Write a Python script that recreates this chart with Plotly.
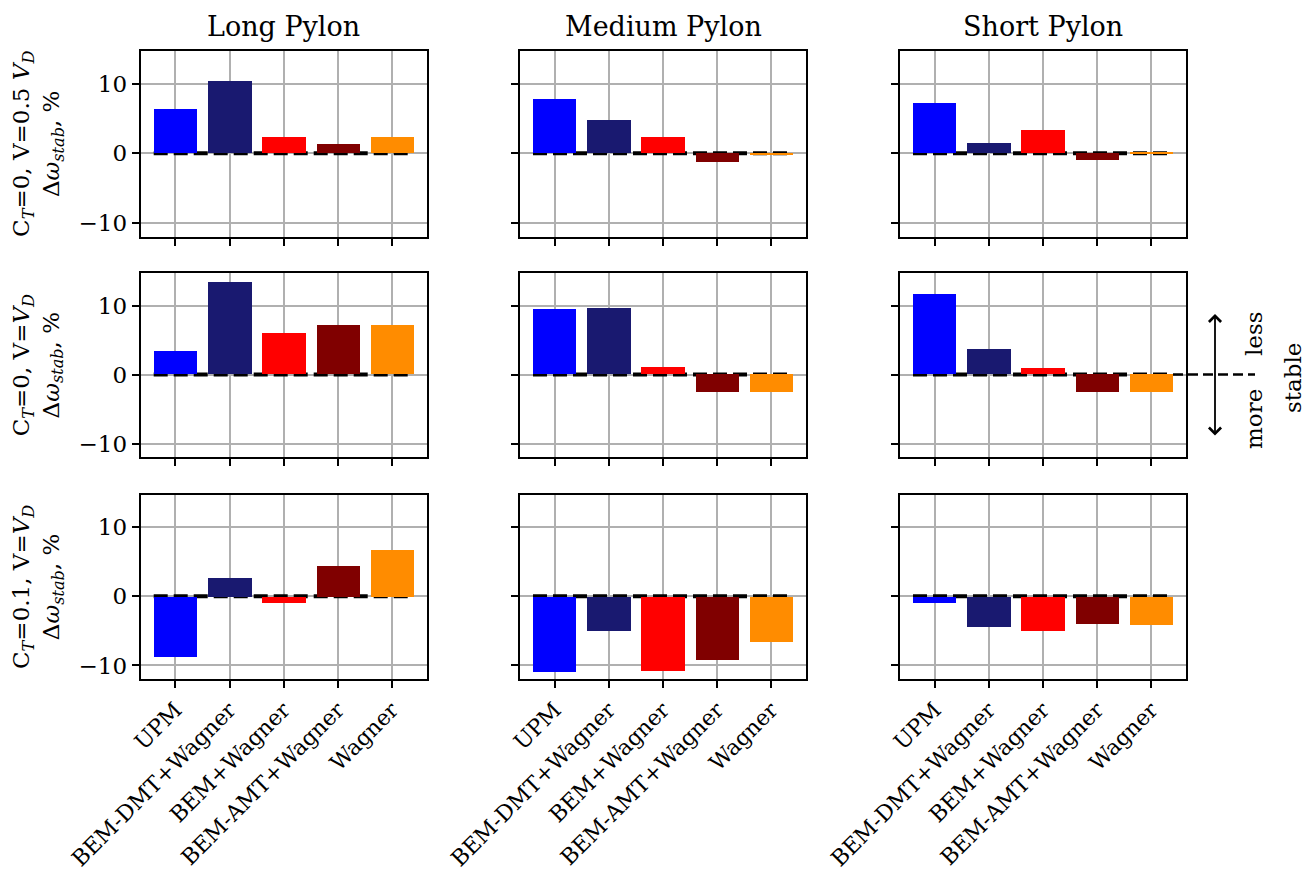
import plotly.graph_objects as go
from plotly.subplots import make_subplots

methods = ["UPM", "BEM-DMT+Wagner", "BEM+Wagner", "BEM-AMT+Wagner", "Wagner"]
colors = ["#0000FF", "#191970", "#FF0000", "#800000", "#FF8C00"]
columns = ["Long Pylon", "Medium Pylon", "Short Pylon"]
row_labels = [
    "C<sub><i>T</i></sub>=0, V=0.5 <i>V</i><sub><i>D</i></sub><br>Δ<i>ω</i><sub><i>stab</i></sub>, %",
    "C<sub><i>T</i></sub>=0, V=<i>V</i><sub><i>D</i></sub><br>Δ<i>ω</i><sub><i>stab</i></sub>, %",
    "C<sub><i>T</i></sub>=0.1, V=<i>V</i><sub><i>D</i></sub><br>Δ<i>ω</i><sub><i>stab</i></sub>, %",
]

long_v05 = [6.4, 10.4, 2.35, 1.35, 2.35]
medium_v05 = [7.8, 4.8, 2.35, -1.35, -0.3]
short_v05 = [7.25, 1.5, 3.35, -0.95, -0.08]
long_vd = [3.45, 13.4, 5.95, 7.2, 7.2]
medium_vd = [9.5, 9.65, 1.1, -2.6, -2.6]
short_vd = [11.7, 3.6, 0.97, -2.6, -2.6]
long_ct01 = [-8.75, 2.65, -0.95, 4.5, 6.7]
medium_ct01 = [-10.95, -4.9, -10.8, -9.2, -6.6]
short_ct01 = [-0.95, -4.45, -5.0, -4.0, -4.15]

grid_data = [
    [long_v05, medium_v05, short_v05],
    [long_vd, medium_vd, short_vd],
    [long_ct01, medium_ct01, short_ct01],
]

# page offset (default body margin of the html page)
OFF = 8
W, H = 1314 - OFF, 874 - OFF


def px_x(p):
    return (p - OFF) / W


def px_y(p):
    return (H - (p - OFF)) / H


FONT = "DejaVu Serif"
TICK_SIZE = 23
XTICK_SIZE = 22
xpos = list(range(len(methods)))
bar_w = 0.8
x_range = [-0.64, 4.64]
y_range = [-12, 14.7]

# subplot boxes in screen pixels (left, right) and (top, bottom)
col_px = [(140.7, 426.7), (520.0, 806.0), (900.0, 1186.0)]
row_px = [(51.3, 236.5), (273.3, 457.3), (494.7, 679.3)]

fig = make_subplots(rows=3, cols=3)

for r in range(3):
    for c in range(3):
        vals = grid_data[r][c]
        fig.add_trace(
            go.Bar(x=xpos, y=vals, width=bar_w, marker=dict(color=colors, line=dict(width=0)),
                   showlegend=False, hoverinfo="skip"),
            row=r + 1, col=c + 1,
        )
        idx = r * 3 + c + 1
        sfx = "" if idx == 1 else str(idx)
        xd = [px_x(col_px[c][0]), px_x(col_px[c][1])]
        yd = [px_y(row_px[r][1]), px_y(row_px[r][0])]
        fig.layout["xaxis" + sfx].update(
            domain=xd, range=x_range, tickvals=xpos, ticktext=methods,
            showticklabels=(r == 2), tickangle=-45, automargin=False,
            ticks="outside", ticklen=7, tickwidth=1.6, tickcolor="black",
            showline=True, mirror=True, linecolor="black", linewidth=2,
            showgrid=True, gridcolor="#b0b0b0", gridwidth=1.6, zeroline=False,
            tickfont=dict(family=FONT, size=XTICK_SIZE, color="black"),
        )
        fig.layout["yaxis" + sfx].update(
            domain=yd, range=y_range, tickvals=[-10, 0, 10],
            showticklabels=(c == 0), automargin=False,
            ticks="outside", ticklen=7, tickwidth=1.6, tickcolor="black",
            showline=True, mirror=True, linecolor="black", linewidth=2,
            showgrid=True, gridcolor="#b0b0b0", gridwidth=1.6, zeroline=False,
            tickfont=dict(family=FONT, size=TICK_SIZE, color="black"),
        )
        # dashed zero line behind bars
        fig.add_shape(type="line", xref="x" + sfx, yref="y" + sfx,
                      x0=xpos[0] - bar_w / 2, x1=xpos[-1] + bar_w / 2, y0=0, y1=0,
                      line=dict(color="black", width=4, dash="14px,6px"), layer="between")
        if r == 1 and c == 2:
            # extension of the zero line to the stability indicator
            frac = (xpos[-1] + bar_w / 2 - x_range[0]) / (x_range[1] - x_range[0])
            x_start = xd[0] + frac * (xd[1] - xd[0])
            y0p = yd[0] + (0 - y_range[0]) / (y_range[1] - y_range[0]) * (yd[1] - yd[0])
            fig.add_shape(type="line", xref="paper", yref="paper",
                          x0=x_start, x1=px_x(1255), y0=y0p, y1=y0p,
                          line=dict(color="black", width=2.5, dash="10px,5px"), layer="above")
            # double arrow
            fig.add_annotation(xref="paper", yref="paper", x=px_x(1215), y=px_y(314),
                               ax=0, ay=123, text="", showarrow=True,
                               arrowside="end+start", arrowhead=4, arrowsize=1.3,
                               arrowwidth=1.8, arrowcolor="black", startarrowhead=4,
                               startarrowsize=1.3)
            for txt, xx, yy in [("less", 1254, 334), ("more", 1254, 419), ("stable", 1293, 378)]:
                fig.add_annotation(xref="paper", yref="paper", x=px_x(xx), y=px_y(yy),
                                   text=txt, showarrow=False, textangle=-90,
                                   xanchor="center", yanchor="middle",
                                   font=dict(family=FONT, size=TICK_SIZE, color="black"))

# column titles
for c, name in enumerate(columns):
    fig.add_annotation(xref="paper", yref="paper", x=px_x((col_px[c][0] + col_px[c][1]) / 2),
                       y=px_y(27), text=name, showarrow=False,
                       xanchor="center", yanchor="middle",
                       font=dict(family=FONT, size=27, color="black"))

# row (y-axis) titles
for r, lab in enumerate(row_labels):
    fig.add_annotation(xref="paper", yref="paper", x=px_x(38),
                       y=px_y((row_px[r][0] + row_px[r][1]) / 2),
                       text=lab, showarrow=False, textangle=-90,
                       xanchor="center", yanchor="middle",
                       font=dict(family=FONT, size=23, color="black"))

fig.update_layout(
    width=W, height=H,
    margin=dict(l=0, r=0, t=0, b=0, autoexpand=False),
    paper_bgcolor="white", plot_bgcolor="white",
    font=dict(family=FONT, size=TICK_SIZE, color="black"),
    bargap=0,
)

fig.write_html("out.html")
